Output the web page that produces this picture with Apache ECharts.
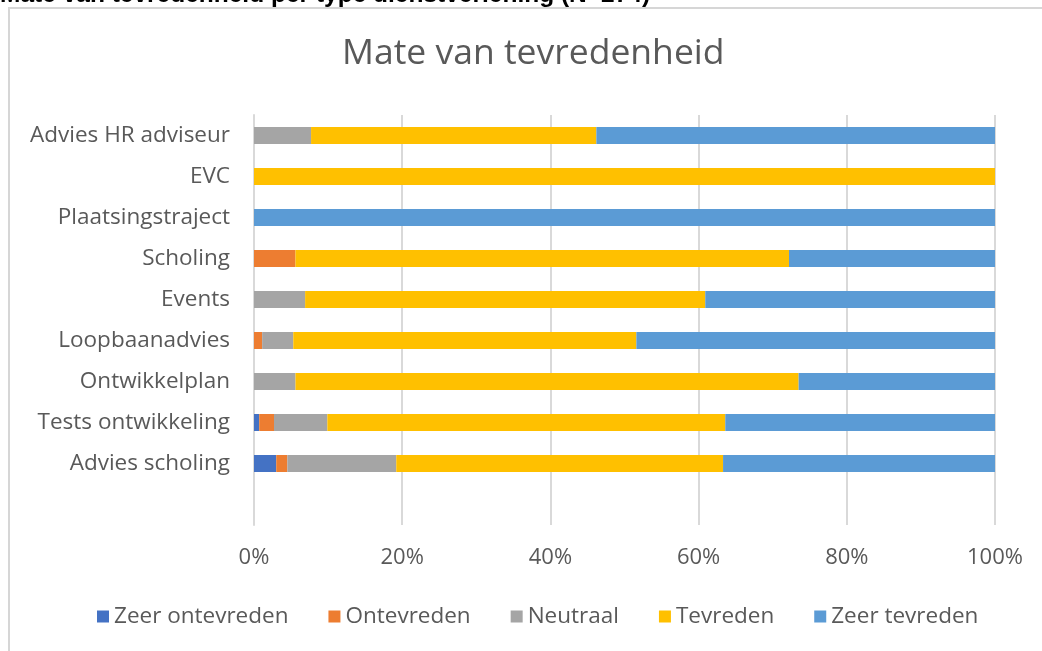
<!DOCTYPE html>
<html>
<head>
<meta charset="utf-8">
<script src="https://cdn.jsdelivr.net/npm/echarts@6/dist/echarts.min.js"></script>
<style>
  html, body { margin: 0; padding: 0; background: #fff; }
  #chart { width: 1042px; height: 651px; }
</style>
</head>
<body>
<div id="chart"></div>
<script>
// categories top to bottom, last one is the empty row Excel left at the bottom
var categories = ['Advies HR adviseur', 'EVC', 'Plaatsingstraject', 'Scholing', 'Events',
  'Loopbaanadvies', 'Ontwikkelplan', 'Tests ontwikkeling', 'Advies scholing', '']
var seriesNames = ['Zeer ontevreden', 'Ontevreden', 'Neutraal', 'Tevreden', 'Zeer tevreden']
var zeerOntevreden = [0, 0, 0, 0, 0, 0, 0, 0.7, 3.0, null]
var ontevreden = [0, 0, 0, 5.6, 0, 1.1, 0, 2.0, 1.5, null]
var neutraal = [7.7, 0, 0, 0, 6.9, 4.2, 5.6, 7.2, 14.7, null]
var tevreden = [38.5, 100, 0, 66.6, 54.0, 46.3, 67.9, 53.7, 44.1, null]
var zeerTevreden = [53.8, 0, 100, 27.8, 39.1, 48.4, 26.5, 36.4, 36.7, null]
var xTicks = [0, 20, 40, 60, 80, 100]

var colors = ['#4472c4', '#ed7d31', '#a5a5a5', '#ffc000', '#5b9bd5']
var values = [zeerOntevreden, ontevreden, neutraal, tevreden, zeerTevreden]
var font = '"Open Sans", Lato, sans-serif'

var seriesData = values.map(function(data, i) {
  return {
    name: seriesNames[i],
    type: 'bar',
    stack: 'total',
    barWidth: 17,
    data: data,
    itemStyle: { color: colors[i] }
  }
})

var myChart = echarts.init(document.getElementById('chart'))
var option = {
  animation: false,
  color: colors,
  title: {
    text: 'Mate van tevredenheid',
    left: 337,
    top: 31,
    textStyle: { fontFamily: font, fontSize: 35.5, fontWeight: 'normal', color: '#595959' }
  },
  graphic: [
    {
      type: 'rect',
      shape: { x: 9, y: 8, width: 1060, height: 680 },
      style: { fill: 'none', stroke: '#d6d6d6', lineWidth: 2 },
      silent: true
    },
    {
      type: 'text',
      left: 0,
      top: -17,
      style: {
        text: 'Mate van tevredenheid per type dienstverlening (N=274)',
        font: 'bold 24.5px "Liberation Sans", Arial, sans-serif',
        fill: '#000'
      },
      silent: true
    }
  ],
  legend: {
    data: seriesNames,
    left: 92,
    top: 600,
    icon: 'rect',
    itemWidth: 12,
    itemHeight: 12,
    itemGap: 40,
    textStyle: { fontFamily: font, fontSize: 22.5, color: '#595959' }
  },
  grid: {
    left: 254,
    right: 47,
    top: 115,
    height: 410,
    containLabel: false
  },
  xAxis: {
    type: 'value',
    min: xTicks[0],
    max: xTicks[xTicks.length - 1],
    interval: 20,
    axisLine: { show: false },
    axisTick: { show: false },
    axisLabel: {
      formatter: '{value}%',
      margin: 22,
      fontFamily: font,
      fontSize: 22,
      color: '#595959'
    },
    splitLine: { lineStyle: { color: '#d9d9d9', width: 2 } }
  },
  yAxis: {
    type: 'category',
    inverse: true,
    data: categories,
    axisLine: { lineStyle: { color: '#d9d9d9', width: 2 } },
    axisTick: { show: false },
    axisLabel: {
      margin: 24,
      fontFamily: font,
      fontSize: 22.5,
      color: '#595959'
    }
  },
  series: seriesData
}
myChart.setOption(option)
</script>
</body>
</html>
